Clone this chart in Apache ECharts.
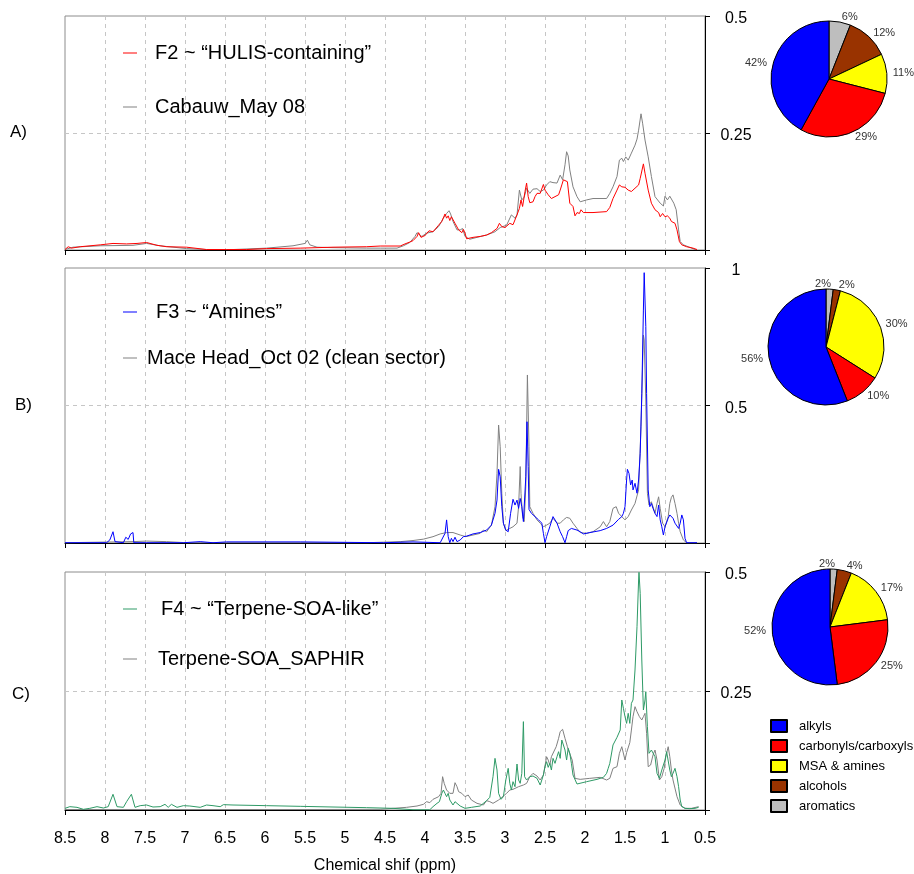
<!DOCTYPE html>
<html><head><meta charset="utf-8">
<script src="https://cdn.jsdelivr.net/npm/echarts@6/dist/echarts.min.js"></script>
<style>html,body{margin:0;padding:0;background:#fff}#c{width:914px;height:874px}</style>
</head><body><div id="c"></div>
<script>
// ---------- DATA ----------
// Panel A (ppm, intensity)
const a_F2 = [[8.5,0.001],[8.46,0.007],[8.42,0.004],[8.31,0.007],[8.06,0.011],[7.9,0.014],[7.73,0.013],[7.6,0.014],[7.48,0.016],[7.35,0.01],[7.23,0.007],[6.98,0.006],[6.73,0.001],[6.48,0.001],[6.23,0.001],[5.98,0.003],[5.56,0.004],[5.15,0.006],[4.73,0.007],[4.56,0.0085],[4.31,0.0085],[4.25,0.013],[4.19,0.017],[4.15,0.02],[4.10,0.029],[4.08,0.037],[4.05,0.027],[4.0,0.031],[3.95,0.041],[3.90,0.039],[3.83,0.053],[3.79,0.061],[3.75,0.077],[3.73,0.068],[3.71,0.073],[3.69,0.063],[3.67,0.071],[3.65,0.068],[3.625,0.057],[3.58,0.043],[3.54,0.037],[3.52,0.044],[3.5,0.036],[3.48,0.024],[3.40,0.027],[3.31,0.029],[3.23,0.032],[3.17,0.037],[3.10,0.046],[3.07,0.057],[3.04,0.05],[3.0,0.048],[2.94,0.057],[2.90,0.054],[2.85,0.075],[2.82,0.089],[2.80,0.107],[2.78,0.093],[2.75,0.125],[2.73,0.143],[2.71,0.114],[2.69,0.101],[2.65,0.103],[2.625,0.114],[2.60,0.121],[2.56,0.121],[2.54,0.118],[2.52,0.14],[2.50,0.128],[2.46,0.118],[2.42,0.11],[2.375,0.114],[2.33,0.118],[2.31,0.128],[2.29,0.139],[2.27,0.15],[2.25,0.152],[2.22,0.146],[2.19,0.1],[2.15,0.093],[2.125,0.073],[2.10,0.08],[2.07,0.078],[2.05,0.086],[2.02,0.08],[1.90,0.08],[1.73,0.082],[1.69,0.091],[1.65,0.11],[1.60,0.128],[1.57,0.139],[1.54,0.135],[1.50,0.134],[1.46,0.128],[1.42,0.125],[1.375,0.132],[1.33,0.139],[1.31,0.153],[1.29,0.155],[1.27,0.184],[1.25,0.164],[1.21,0.128],[1.17,0.1],[1.125,0.086],[1.08,0.08],[1.06,0.071],[1.03,0.078],[1.0,0.071],[0.97,0.073],[0.94,0.068],[0.92,0.061],[0.90,0.063],[0.875,0.057],[0.85,0.043],[0.82,0.018],[0.79,0.011],[0.73,0.007],[0.65,0.004],[0.6,0.001]];
const a_cabauw = [[8.5,0.001],[8.4,0.006],[8.06,0.009],[7.65,0.01],[7.48,0.014],[7.31,0.009],[6.98,0.003],[6.73,0.001],[6.40,0.001],[5.98,0.004],[5.65,0.009],[5.5,0.014],[5.47,0.021],[5.44,0.011],[5.35,0.006],[5.15,0.005],[4.73,0.004],[4.56,0.004],[4.35,0.004],[4.27,0.009],[4.19,0.016],[4.125,0.029],[4.10,0.037],[4.04,0.029],[3.98,0.036],[3.90,0.039],[3.83,0.05],[3.77,0.068],[3.73,0.078],[3.70,0.084],[3.68,0.077],[3.65,0.061],[3.60,0.043],[3.56,0.043],[3.53,0.046],[3.50,0.029],[3.44,0.023],[3.35,0.027],[3.23,0.032],[3.125,0.039],[3.06,0.048],[2.98,0.053],[2.92,0.075],[2.875,0.068],[2.85,0.075],[2.82,0.128],[2.79,0.107],[2.76,0.113],[2.73,0.132],[2.69,0.121],[2.65,0.13],[2.625,0.133],[2.60,0.131],[2.56,0.125],[2.52,0.128],[2.48,0.139],[2.44,0.146],[2.40,0.144],[2.35,0.143],[2.31,0.16],[2.28,0.15],[2.25,0.182],[2.23,0.21],[2.21,0.201],[2.19,0.171],[2.15,0.135],[2.10,0.114],[2.06,0.103],[1.98,0.107],[1.90,0.11],[1.73,0.11],[1.69,0.121],[1.65,0.135],[1.60,0.157],[1.57,0.192],[1.54,0.196],[1.52,0.189],[1.49,0.199],[1.46,0.192],[1.42,0.207],[1.375,0.224],[1.35,0.237],[1.33,0.256],[1.30,0.291],[1.28,0.271],[1.25,0.235],[1.21,0.199],[1.17,0.157],[1.125,0.114],[1.06,0.1],[1.02,0.094],[1.0,0.115],[0.97,0.107],[0.94,0.115],[0.92,0.114],[0.89,0.1],[0.86,0.086],[0.83,0.043],[0.81,0.018],[0.77,0.011],[0.71,0.007],[0.625,0.001],[0.6,0.001]];
// Panel B
const b_F3 = [[8.5,0.001],[7.98,0.001],[7.94,0.011],[7.90,0.041],[7.875,0.005],[7.77,0.001],[7.74,0.021],[7.71,0.013],[7.68,0.033],[7.65,0.038],[7.64,0.001],[7.48,0.001],[7.02,0.001],[6.81,0.005],[6.65,0.001],[6.48,0.004],[5.56,0.004],[4.52,0.001],[4.15,0.004],[3.81,0.001],[3.75,0.035],[3.73,0.084],[3.71,0.023],[3.69,0.001],[3.67,0.017],[3.65,0.005],[3.625,0.021],[3.60,0.005],[3.56,0.011],[3.52,0.023],[3.48,0.025],[3.40,0.033],[3.31,0.038],[3.23,0.047],[3.17,0.065],[3.125,0.108],[3.10,0.156],[3.08,0.268],[3.06,0.241],[3.04,0.132],[3.02,0.072],[2.99,0.047],[2.96,0.041],[2.93,0.108],[2.90,0.159],[2.875,0.138],[2.85,0.156],[2.83,0.126],[2.81,0.162],[2.79,0.132],[2.77,0.078],[2.75,0.084],[2.74,0.241],[2.725,0.441],[2.71,0.278],[2.70,0.122],[2.67,0.108],[2.625,0.096],[2.58,0.084],[2.54,0.072],[2.52,0.035],[2.50,0.001],[2.48,0.023],[2.44,0.059],[2.40,0.096],[2.375,0.096],[2.35,0.072],[2.31,0.041],[2.28,0.023],[2.25,0.001],[2.23,0.023],[2.21,0.045],[2.17,0.053],[2.10,0.047],[2.06,0.041],[2.02,0.033],[1.94,0.038],[1.81,0.045],[1.73,0.053],[1.65,0.065],[1.58,0.086],[1.54,0.096],[1.52,0.108],[1.50,0.132],[1.48,0.229],[1.47,0.268],[1.45,0.253],[1.43,0.211],[1.41,0.229],[1.40,0.193],[1.375,0.217],[1.35,0.181],[1.33,0.229],[1.31,0.326],[1.29,0.544],[1.27,0.847],[1.26,0.983],[1.24,0.787],[1.23,0.544],[1.21,0.193],[1.19,0.132],[1.17,0.144],[1.15,0.126],[1.125,0.108],[1.10,0.096],[1.08,0.138],[1.06,0.084],[1.04,0.059],[1.02,0.029],[1.0,0.059],[0.98,0.059],[0.96,0.09],[0.94,0.102],[0.92,0.096],[0.90,0.09],[0.875,0.072],[0.85,0.065],[0.83,0.053],[0.81,0.072],[0.79,0.102],[0.77,0.084],[0.75,0.017],[0.73,0.001],[0.6,0.001]];
const b_maceHead = [[8.5,0.001],[7.65,0.005],[7.48,0.007],[7.23,0.005],[6.98,0.001],[6.48,0.001],[5.56,0.001],[4.73,0.001],[4.52,0.003],[4.31,0.005],[4.15,0.009],[4.02,0.014],[3.90,0.023],[3.81,0.033],[3.73,0.038],[3.65,0.038],[3.56,0.029],[3.49,0.023],[3.40,0.029],[3.31,0.035],[3.27,0.047],[3.25,0.053],[3.23,0.041],[3.17,0.065],[3.125,0.132],[3.10,0.253],[3.08,0.429],[3.06,0.35],[3.04,0.181],[3.02,0.072],[2.99,0.045],[2.94,0.053],[2.90,0.059],[2.85,0.072],[2.83,0.132],[2.81,0.278],[2.80,0.181],[2.78,0.096],[2.76,0.078],[2.74,0.205],[2.72,0.611],[2.70,0.35],[2.69,0.132],[2.65,0.108],[2.60,0.084],[2.56,0.072],[2.52,0.059],[2.48,0.065],[2.44,0.072],[2.40,0.09],[2.35,0.072],[2.31,0.072],[2.27,0.084],[2.23,0.093],[2.19,0.09],[2.15,0.072],[2.10,0.053],[2.06,0.038],[1.98,0.035],[1.90,0.041],[1.81,0.059],[1.77,0.078],[1.73,0.059],[1.69,0.078],[1.65,0.126],[1.61,0.132],[1.58,0.108],[1.54,0.096],[1.50,0.084],[1.46,0.096],[1.42,0.12],[1.375,0.144],[1.33,0.193],[1.30,0.423],[1.27,0.756],[1.26,0.738],[1.24,0.52],[1.22,0.181],[1.20,0.138],[1.17,0.15],[1.15,0.132],[1.125,0.108],[1.10,0.144],[1.08,0.168],[1.06,0.126],[1.03,0.072],[1.0,0.059],[0.96,0.096],[0.94,0.144],[0.92,0.166],[0.90,0.175],[0.875,0.144],[0.85,0.108],[0.83,0.072],[0.81,0.041],[0.77,0.011],[0.73,0.001],[0.6,0.001]];
// Panel C
const c_F4 = [[8.5,0.0035],[8.44,0.007],[8.35,0.0056],[8.27,0.0014],[8.19,0.0035],[8.10,0.007],[8.02,0.0042],[7.96,0.007],[7.90,0.033],[7.85,0.007],[7.77,0.0056],[7.73,0.0175],[7.67,0.033],[7.625,0.0056],[7.56,0.0091],[7.48,0.0105],[7.40,0.0063],[7.31,0.007],[7.25,0.0119],[7.21,0.0056],[7.17,0.0119],[7.10,0.0056],[7.02,0.0091],[6.94,0.0084],[6.81,0.0056],[6.73,0.0105],[6.65,0.0091],[6.56,0.007],[6.52,0.0112],[6.40,0.0105],[5.98,0.0091],[5.56,0.0077],[5.15,0.0063],[4.73,0.0049],[4.40,0.0035],[4.15,0.0005],[3.94,0.0005],[3.90,0.007],[3.85,0.014],[3.82,0.0175],[3.79,0.035],[3.77,0.042],[3.75,0.035],[3.73,0.028],[3.71,0.035],[3.69,0.021],[3.65,0.0105],[3.625,0.0175],[3.60,0.014],[3.56,0.0084],[3.50,0.0035],[3.42,0.0056],[3.31,0.0084],[3.23,0.0196],[3.19,0.0266],[3.15,0.07],[3.125,0.1085],[3.10,0.084],[3.08,0.035],[3.05,0.0224],[3.02,0.028],[2.99,0.063],[2.96,0.0875],[2.94,0.056],[2.92,0.042],[2.90,0.0595],[2.875,0.049],[2.85,0.0966],[2.83,0.063],[2.81,0.056],[2.79,0.077],[2.77,0.1856],[2.755,0.07],[2.73,0.063],[2.69,0.07],[2.65,0.0714],[2.60,0.0665],[2.56,0.0525],[2.54,0.063],[2.52,0.0735],[2.50,0.091],[2.48,0.1015],[2.46,0.0896],[2.44,0.098],[2.42,0.084],[2.40,0.1085],[2.375,0.098],[2.35,0.112],[2.33,0.1225],[2.31,0.1085],[2.29,0.147],[2.27,0.147],[2.25,0.126],[2.23,0.105],[2.21,0.1295],[2.19,0.119],[2.17,0.098],[2.15,0.0735],[2.10,0.0546],[1.98,0.0595],[1.85,0.0644],[1.77,0.0686],[1.73,0.077],[1.71,0.0875],[1.69,0.098],[1.65,0.1366],[1.60,0.1527],[1.58,0.1506],[1.56,0.168],[1.54,0.2311],[1.52,0.2136],[1.50,0.1961],[1.48,0.182],[1.46,0.2031],[1.44,0.182],[1.42,0.2241],[1.40,0.2311],[1.375,0.2941],[1.35,0.3852],[1.33,0.4832],[1.325,0.4993],[1.31,0.4552],[1.29,0.3151],[1.27,0.2101],[1.25,0.2311],[1.24,0.2486],[1.22,0.1751],[1.20,0.119],[1.17,0.126],[1.15,0.1296],[1.125,0.112],[1.10,0.077],[1.07,0.0665],[1.04,0.084],[1.02,0.0875],[1.0,0.105],[0.98,0.1225],[0.96,0.119],[0.94,0.084],[0.92,0.07],[0.90,0.077],[0.875,0.0875],[0.85,0.07],[0.83,0.049],[0.81,0.021],[0.79,0.007],[0.75,0.0035],[0.69,0.0028],[0.625,0.0035],[0.58,0.0056]];
const c_saphir = [[8.5,0.001],[7.0,0.001],[5.5,0.001],[4.56,0.0014],[4.40,0.0035],[4.23,0.0056],[4.10,0.0084],[4.02,0.0119],[3.98,0.0175],[3.94,0.0154],[3.90,0.0224],[3.83,0.028],[3.80,0.035],[3.78,0.07],[3.76,0.056],[3.73,0.042],[3.71,0.0406],[3.69,0.035],[3.65,0.035],[3.625,0.0574],[3.60,0.049],[3.58,0.0385],[3.54,0.035],[3.50,0.028],[3.46,0.0315],[3.42,0.021],[3.35,0.014],[3.27,0.0105],[3.23,0.0196],[3.19,0.0175],[3.15,0.014],[3.08,0.021],[3.04,0.0266],[2.98,0.035],[2.94,0.042],[2.90,0.0434],[2.83,0.049],[2.77,0.0525],[2.73,0.056],[2.69,0.07],[2.65,0.077],[2.60,0.0714],[2.56,0.063],[2.52,0.0735],[2.50,0.077],[2.48,0.112],[2.46,0.105],[2.44,0.0945],[2.42,0.112],[2.40,0.1155],[2.36,0.133],[2.33,0.1506],[2.31,0.1646],[2.28,0.1695],[2.25,0.1506],[2.22,0.133],[2.20,0.1225],[2.18,0.126],[2.16,0.105],[2.125,0.0665],[2.06,0.0644],[1.94,0.0665],[1.81,0.0686],[1.73,0.063],[1.69,0.0665],[1.65,0.0875],[1.60,0.091],[1.57,0.119],[1.54,0.133],[1.50,0.105],[1.48,0.1204],[1.44,0.1415],[1.42,0.168],[1.40,0.1961],[1.375,0.2171],[1.35,0.2066],[1.32,0.1961],[1.29,0.1891],[1.27,0.1961],[1.25,0.2031],[1.23,0.161],[1.21,0.091],[1.18,0.0945],[1.15,0.1155],[1.125,0.126],[1.10,0.105],[1.07,0.063],[1.04,0.07],[1.01,0.0875],[0.99,0.112],[0.96,0.133],[0.94,0.112],[0.92,0.084],[0.90,0.063],[0.85,0.028],[0.81,0.0105],[0.75,0.0035],[0.67,0.0035],[0.58,0.007]];

// Pie composition (clockwise from 12 o'clock)
const pieCategories = ['aromatics','alcohols','MSA & amines','carbonyls/carboxyls','alkyls'];
const pieA = [6,12,11,29,42];
const pieB = [2,2,30,10,56];
const pieC = [2,4,17,25,52];
const pieLegendOrder = ['alkyls','carbonyls/carboxyls','MSA & amines','alcohols','aromatics'];

// Axis settings
const xMin = 0.5, xMax = 8.5, xStep = 0.5;
const yMaxes = [0.5, 1, 0.5];
const ySteps = [0.25, 0.5, 0.25];

// Names
const namesA = ['F2 ~ \u201cHULIS-containing\u201d', 'Cabauw_May 08'];
const namesB = ['F3 ~ \u201cAmines\u201d', 'Mace Head_Oct 02 (clean sector)'];
const namesC = ['F4 ~ \u201cTerpene-SOA-like\u201d', 'Terpene-SOA_SAPHIR'];
const panelLabels = ['A)', 'B)', 'C)'];

// ---------- STYLE / LAYOUT ----------
const FONT = 'Liberation Sans, Arial, Helvetica, sans-serif';
const sliceColors = {'aromatics':'#bebebe','alcohols':'#993300','MSA & amines':'#ffff00','carbonyls/carboxyls':'#ff0000','alkyls':'#0000ff'};
const grids = [
  {left:65, top:16, width:640, height:234},
  {left:65, top:268, width:640, height:275},
  {left:65, top:572, width:640, height:238}
];
const nV = Math.round((xMax - xMin) / xStep) + 1;
const vColors = [];
for (let i = 0; i < nV; i++) vColors.push(i === 0 || i === nV - 1 ? 'rgba(0,0,0,0)' : '#c6c6c6');

const chart = echarts.init(document.getElementById('c'), null, {renderer:'canvas'});

const xAxes = grids.map((g, i) => ({
  gridIndex: i, type: 'value', min: xMin, max: xMax, interval: xStep, inverse: true,
  axisLine: {show: true, onZero: false, lineStyle: {color: '#000', width: 1}},
  axisTick: {show: true, length: 5, lineStyle: {color: '#000'}},
  axisLabel: {show: i === 2, fontSize: 16, color: '#000', fontFamily: FONT, margin: 21},
  splitLine: {show: true, lineStyle: {color: vColors, type: [4, 4], width: 1}},
  name: i === 2 ? 'Chemical shif (ppm)' : '',
  nameLocation: 'middle', nameGap: 48,
  nameTextStyle: {fontSize: 16, color: '#000', fontFamily: FONT}
}));
const yAxes = grids.map((g, i) => ({
  gridIndex: i, type: 'value', position: 'right', min: 0, max: yMaxes[i], interval: ySteps[i],
  axisLine: {show: true, lineStyle: {color: '#000', width: 1}},
  axisTick: {show: true, length: 5, lineStyle: {color: '#000'}},
  axisLabel: {show: true, fontSize: 16, color: '#000', fontFamily: FONT, align: 'center', margin: 31,
    verticalAlign: 'top', padding: [-5, 0, 0, 0], formatter: v => v === 0 ? '' : String(v)},
  splitLine: {show: true, lineStyle: {color: ['rgba(0,0,0,0)', '#c6c6c6', 'rgba(0,0,0,0)'], type: [4, 4], width: 1}}
}));

function lineSeries(name, data, idx, color, z) {
  return {type: 'line', name, data, xAxisIndex: idx, yAxisIndex: idx, showSymbol: false, symbol: 'none',
    color, lineStyle: {color, width: 1}, z, clip: true, silent: true};
}
function pieSeries(vals, center, firstRight) {
  return {
    type: 'pie', center, radius: 58, startAngle: 90, clockwise: true, avoidLabelOverlap: false, silent: true,
    data: pieCategories.map((n, k) => ({name: n, value: vals[k], itemStyle: {color: sliceColors[n]}})),
    itemStyle: {borderColor: '#000', borderWidth: 1},
    label: {show: true, position: 'outside', formatter: '{c}%', fontSize: 11, color: '#333', fontFamily: FONT,
      distanceToLabelLine: 1, overflow: 'none', bleedMargin: 60},
    labelLine: {show: false, length: 5, length2: 0},
    labelLayout: function (p) { return (firstRight && p.dataIndex === 0) ? {align: 'right'} : {}; },
    emphasis: {disabled: true}
  };
}
function lineLegend(names, top, gap, pads) {
  return {
    orient: 'vertical', left: 123, top, itemGap: gap, itemWidth: 14, itemHeight: 1, icon: 'rect', padding: 0,
    selectedMode: false,
    textStyle: {fontSize: 20, color: '#000', fontFamily: FONT, lineHeight: 22},
    data: names.map((n, k) => ({name: n, textStyle: {padding: [0, 0, 0, pads[k]]}}))
  };
}

const option = {
  animation: false,
  backgroundColor: '#fff',
  grid: grids.map(g => Object.assign({show: true, borderColor: '#8c8c8c', borderWidth: 1, backgroundColor: 'transparent', containLabel: false, outerBoundsMode: 'none'}, g)),
  xAxis: xAxes,
  yAxis: yAxes,
  legend: [
    lineLegend(namesA, 42, 32, [13, 13]),
    lineLegend(namesB, 301, 24, [14, 5]),
    lineLegend(namesC, 598, 28, [19, 16]),
    {orient: 'vertical', left: 770, top: 719, itemGap: 6, itemWidth: 16, itemHeight: 12, icon: 'rect', padding: 0,
     selectedMode: false,
     textStyle: {fontSize: 13, color: '#000', fontFamily: FONT, lineHeight: 14, padding: [0, 0, 0, 7]},
     data: pieLegendOrder}
  ],
  graphic: panelLabels.map((t, i) => ({
    type: 'text', left: [10, 15, 12][i], top: [133, 406, 695][i] - 9,
    style: {text: t, font: '17px ' + FONT, fill: '#000'}
  })),
  series: [
    lineSeries(namesA[1], a_cabauw, 0, '#808080', 2),
    lineSeries(namesA[0], a_F2, 0, '#ff0000', 3),
    lineSeries(namesB[1], b_maceHead, 1, '#808080', 2),
    lineSeries(namesB[0], b_F3, 1, '#0000ff', 3),
    lineSeries(namesC[1], c_saphir, 2, '#808080', 2),
    lineSeries(namesC[0], c_F4, 2, '#2e9a66', 3),
    pieSeries(pieA, [829, 79], false),
    pieSeries(pieB, [826, 347], true),
    pieSeries(pieC, [830, 627], true)
  ]
};
chart.setOption(option);
</script></body></html>
